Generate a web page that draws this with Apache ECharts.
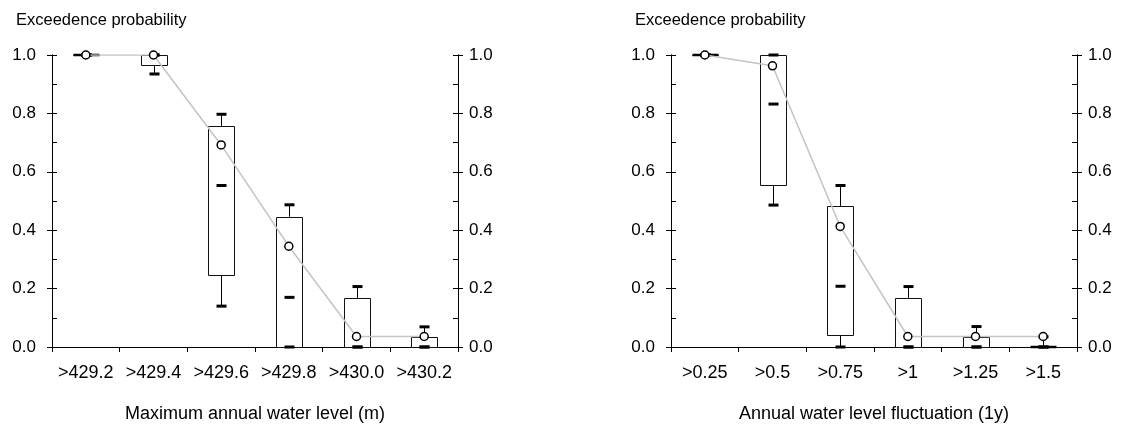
<!DOCTYPE html>
<html>
<head>
<meta charset="utf-8">
<script src="https://cdn.jsdelivr.net/npm/echarts@6/dist/echarts.min.js"></script>
<style>
html,body{margin:0;padding:0;background:#fff;}
#chart{width:1127px;height:434px;}
</style>
</head>
<body>
<div id="chart"></div>
<script>
// ---- Data: left panel (Maximum annual water level) ----
const cats1 = ['>429.2', '>429.4', '>429.6', '>429.8', '>430.0', '>430.2'];
const whiskerLow1  = [1.0, 0.935, 0.14, 0, 0, 0];
const q1_1         = [1.0, 0.967, 0.245, 0, 0, 0];
const median1      = [1.0, 1.0, 0.553, 0.17, 0, 0];
const q3_1         = [1.0, 1.0, 0.757, 0.446, 0.168, 0.034];
const whiskerHigh1 = [1.0, 1.0, 0.797, 0.487, 0.207, 0.069];
const mean1        = [1.0, 1.0, 0.692, 0.345, 0.036, 0.036];

// ---- Data: right panel (Annual water level fluctuation) ----
const cats2 = ['>0.25', '>0.5', '>0.75', '>1', '>1.25', '>1.5'];
const whiskerLow2  = [1.0, 0.486, 0, 0, 0, 0];
const q1_2         = [1.0, 0.555, 0.04, 0, 0, 0];
const median2      = [1.0, 0.832, 0.208, 0, 0, 0];
const q3_2         = [1.0, 1.0, 0.483, 0.168, 0.034, 0];
const whiskerHigh2 = [1.0, 1.0, 0.553, 0.207, 0.07, 0.035];
const mean2        = [1.0, 0.963, 0.413, 0.036, 0.036, 0.036];

const yTicks = [0.0, 0.2, 0.4, 0.6, 0.8, 1.0];
const yTitle = 'Exceedence probability';
const xTitle1 = 'Maximum annual water level (m)';
const xTitle2 = 'Annual water level fluctuation (1y)';

const FONT = '"Liberation Sans", Arial, Helvetica, sans-serif';

function boxData(cats, wl, q1, med, q3, wh) {
  return cats.map((c, i) => [i, wl[i], q1[i], med[i], q3[i], wh[i]]);
}

function renderBox(params, api) {
  const x = api.value(0);
  const pWl = api.coord([x, api.value(1)]);
  const pQ1 = api.coord([x, api.value(2)]);
  const pMed = api.coord([x, api.value(3)]);
  const pQ3 = api.coord([x, api.value(4)]);
  const pWh = api.coord([x, api.value(5)]);
  const cx = Math.round(pQ1[0]) + 0.5;
  const bw = Math.round(api.size([1, 0])[0] * 0.38);
  const dw = 10, dh = 3;
  const stroke = {stroke: '#000', lineWidth: 1, fill: null};
  const children = [];
  children.push({type: 'line', shape: {x1: cx, y1: pQ3[1], x2: cx, y2: pWh[1]}, style: stroke});
  children.push({type: 'line', shape: {x1: cx, y1: pQ1[1], x2: cx, y2: pWl[1]}, style: stroke});
  const top = Math.round(pQ3[1]) + 0.5;
  const bot = Math.round(pQ1[1]) + 0.5;
  children.push({type: 'rect', shape: {x: cx - bw / 2, y: top, width: bw, height: bot - top},
    style: {stroke: '#111', lineWidth: 1, fill: '#fff'}});
  if (api.value(2) === api.value(4)) {
    children.push({type: 'rect', shape: {x: cx - bw / 2, y: pQ1[1] - 1.25, width: bw, height: 2.5},
      style: {fill: '#000'}});
  }
  [pWl, pWh, pMed].forEach(p => {
    children.push({type: 'rect', shape: {x: cx - dw / 2, y: p[1] - dh / 2, width: dw, height: dh},
      style: {fill: '#000'}});
  });
  return {type: 'group', children: children};
}

const gridW = 406, gridH = 292, gridTop = 55;
const grids = [
  {left: 52, top: gridTop, width: gridW, height: gridH},
  {left: 671, top: gridTop, width: gridW, height: gridH}
];

function xAxisFor(idx, cats, name) {
  return {
    type: 'category', gridIndex: idx, data: cats, boundaryGap: true,
    name: name, nameLocation: 'middle', nameGap: 58,
    nameTextStyle: {fontFamily: FONT, fontSize: 18, color: '#000'},
    axisLine: {show: true, onZero: false, lineStyle: {color: '#000', width: 1}},
    axisTick: {show: true, inside: false, length: 5, interval: 0, lineStyle: {color: '#000'}},
    axisLabel: {fontFamily: FONT, fontSize: 18, color: '#000', margin: 17, interval: 0, hideOverlap: false},
    splitLine: {show: false}
  };
}

function yAxisFor(idx, pos, labels, inside) {
  return {
    type: 'value', gridIndex: idx, position: pos, min: 0, max: 1, interval: 0.2,
    axisLine: {show: true, lineStyle: {color: '#000', width: 1}},
    axisTick: {show: true, inside: inside, length: 5, lineStyle: {color: '#000'}},
    minorTick: {show: inside, splitNumber: 2, length: 5, lineStyle: {color: '#000'}},
    axisLabel: {show: labels, fontFamily: FONT, fontSize: 17, color: '#000',
      margin: pos === 'left' ? 16 : 11,
      formatter: v => yTicks.find(t => Math.abs(t - v) < 1e-9).toFixed(1)},
    splitLine: {show: false}
  };
}

const option = {
  backgroundColor: '#fff',
  animation: false,
  title: [
    {text: yTitle, left: 11, top: 7, textStyle: {fontFamily: FONT, fontSize: 16.5, fontWeight: 'normal', color: '#000'}},
    {text: yTitle, left: 630, top: 7, textStyle: {fontFamily: FONT, fontSize: 16.5, fontWeight: 'normal', color: '#000'}}
  ],
  grid: grids,
  xAxis: [xAxisFor(0, cats1, xTitle1), xAxisFor(1, cats2, xTitle2)],
  yAxis: [
    yAxisFor(0, 'left', true, false),
    yAxisFor(0, 'right', true, false),
    yAxisFor(0, 'left', false, true),
    yAxisFor(0, 'right', false, true),
    yAxisFor(1, 'left', true, false),
    yAxisFor(1, 'right', true, false),
    yAxisFor(1, 'left', false, true),
    yAxisFor(1, 'right', false, true)
  ],
  series: [
    {type: 'custom', xAxisIndex: 0, yAxisIndex: 0, z: 2, renderItem: renderBox,
      encode: {x: 0, y: [1, 2, 3, 4, 5]}, data: boxData(cats1, whiskerLow1, q1_1, median1, q3_1, whiskerHigh1)},
    {type: 'custom', xAxisIndex: 1, yAxisIndex: 4, z: 2, renderItem: renderBox,
      encode: {x: 0, y: [1, 2, 3, 4, 5]}, data: boxData(cats2, whiskerLow2, q1_2, median2, q3_2, whiskerHigh2)},
    {type: 'line', xAxisIndex: 0, yAxisIndex: 0, z: 5, data: mean1, symbol: 'circle', symbolSize: 8,
      lineStyle: {color: '#c4c4c4', width: 1.5},
      itemStyle: {color: '#fff', borderColor: '#000', borderWidth: 1.5}},
    {type: 'line', xAxisIndex: 1, yAxisIndex: 4, z: 5, data: mean2, symbol: 'circle', symbolSize: 8,
      lineStyle: {color: '#c4c4c4', width: 1.5},
      itemStyle: {color: '#fff', borderColor: '#000', borderWidth: 1.5}}
  ]
};

const chart = echarts.init(document.getElementById('chart'), null, {renderer: 'canvas'});
chart.setOption(option);
</script>
</body>
</html>
